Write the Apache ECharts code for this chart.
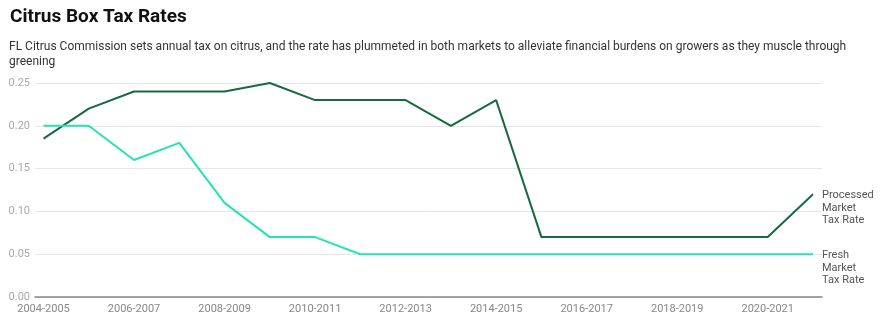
<!DOCTYPE html>
<html>
<head>
<meta charset="utf-8">
<script src="https://cdn.jsdelivr.net/npm/echarts@6/dist/echarts.min.js"></script>
<style>
html,body{margin:0;padding:0;background:#fff;}
#c{width:880px;height:325px;}
</style>
</head>
<body>
<div id="c"></div>
<script>
var categories = ["2004-2005","2005-2006","2006-2007","2007-2008","2008-2009","2009-2010","2010-2011","2011-2012","2012-2013","2013-2014","2014-2015","2015-2016","2016-2017","2017-2018","2018-2019","2019-2020","2020-2021","2021-2022"];
var processed = [0.185,0.22,0.24,0.24,0.24,0.25,0.23,0.23,0.23,0.20,0.23,0.07,0.07,0.07,0.07,0.07,0.07,0.12];
var fresh = [0.20,0.20,0.16,0.18,0.11,0.07,0.07,0.05,0.05,0.05,0.05,0.05,0.05,0.05,0.05,0.05,0.05,0.05];
var yTicks = [0, 0.05, 0.10, 0.15, 0.20, 0.25];
var titleText = "Citrus Box Tax Rates";
var subtitleText = "FL Citrus Commission sets annual tax on citrus, and the rate has plummeted in both markets to alleviate financial burdens on growers as they muscle through\ngreening";
var processedName = "Processed\nMarket\nTax Rate";
var freshName = "Fresh\nMarket\nTax Rate";

var chart = echarts.init(document.getElementById('c'));
var font = 'Roboto, "Noto Sans", sans-serif';
var endLabel = function(txt){
  return {
    show: true,
    formatter: function(){ return txt; },
    color: '#555',
    fontFamily: font,
    fontSize: 11,
    lineHeight: 12.7,
    distance: 9,
    verticalAlign: 'top',
    offset: [0, -5.5]
  };
};
chart.setOption({
  animation: false,
  title: [{
    text: titleText,
    left: 10, top: 8, padding: 0,
    textStyle: {fontFamily: font, fontWeight: 'bold', fontSize: 19, color: '#111'}
  },{
    text: subtitleText,
    left: 9, top: 40, padding: 0,
    textStyle: {fontFamily: font, fontWeight: 'normal', fontSize: 12, lineHeight: 14.5, color: '#333'}
  }],
  grid: [
    {left: 35, right: 58, top: 83, bottom: 28},
    {left: 43.5, right: 67, top: 83, bottom: 28}
  ],
  xAxis: [
    {type: 'value', gridIndex: 0, min: 0, max: 1, axisLabel: {show: false}, axisTick: {show: false}, splitLine: {show: false},
     axisLine: {show: true, lineStyle: {color: '#888', width: 1.5}}},
    {type: 'category', gridIndex: 1, data: categories, boundaryGap: false,
     axisLine: {show: false}, axisTick: {show: false},
     axisLabel: {interval: 1, color: '#888', fontFamily: font, fontSize: 11, margin: 7}}
  ],
  yAxis: [
    {type: 'value', gridIndex: 0, min: 0, max: 0.25, interval: 0.05,
     axisLine: {show: false}, axisTick: {show: false},
     axisLabel: {color: '#aaa', fontFamily: font, fontSize: 11, margin: 5, formatter: function(v){ return v.toFixed(2); }},
     splitLine: {lineStyle: {color: '#e6e6e6', width: 1}}},
    {type: 'value', gridIndex: 1, min: 0, max: 0.25, interval: 0.05, show: false}
  ],
  series: [
    {name: 'Processed Market Tax Rate', type: 'line', xAxisIndex: 1, yAxisIndex: 1, data: processed,
     showSymbol: false, symbol: 'none', lineStyle: {color: '#18693f', width: 2}, itemStyle: {color: '#18693f'},
     endLabel: endLabel(processedName)},
    {name: 'Fresh Market Tax Rate', type: 'line', xAxisIndex: 1, yAxisIndex: 1, data: fresh,
     showSymbol: false, symbol: 'none', lineStyle: {color: '#27e3b4', width: 2}, itemStyle: {color: '#27e3b4'},
     endLabel: endLabel(freshName)}
  ]
});
</script>
</body>
</html>
